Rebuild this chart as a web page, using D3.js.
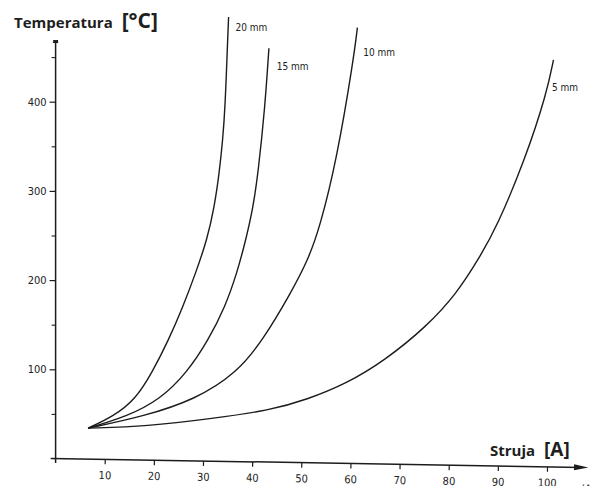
<!DOCTYPE html>
<html>
<head>
<meta charset="utf-8">
<script src="https://d3js.org/d3.v7.min.js"></script>
<style>
  html, body { margin: 0; padding: 0; background: #fff; }
  svg { display: block; }
  .curve { fill: none; stroke: #1c1c1c; stroke-width: 1.4; }
  .axis-line { stroke: #1c1c1c; stroke-width: 1.5; }
  .tick text, .lbl { font-family: "DejaVu Sans Condensed", "DejaVu Sans", sans-serif; font-stretch: condensed; fill: #222; }
  .title { font-family: "Open Sans", "Liberation Sans", sans-serif; font-weight: 700; fill: #1e1e1e; }
</style>
</head>
<body>
<div id="chart"></div>
<script>
// values: current [A] vs. temperature [°C]
const i20 = [6.6, 11.7, 16.2, 19.6, 23.0, 25.9, 28.5, 30.8, 32.3, 33.3, 34.0, 34.5, 35.0, 35.2];
const t20 = [34, 47, 66, 96, 133, 170, 208, 245, 282, 320, 357, 394, 469, 495];

const i15 = [6.6, 14.5, 21.2, 26.7, 31.1, 34.5, 36.9, 38.7, 40.2, 41.2, 42.6, 43.4];
const t15 = [34, 47, 66, 96, 133, 170, 208, 245, 282, 320, 394, 460];

const i10 = [6.6, 17.8, 28.4, 36.9, 42.2, 47.8, 51.4, 53.8, 57.2, 60.6, 61.4];
const t10 = [34, 47, 66, 96, 133, 185, 223, 260, 335, 447, 483];

const i5 = [6.6, 18.5, 32.1, 43.6, 51.1, 59.2, 67.0, 75.5, 81.6, 86.0, 89.8, 95.5, 99.9, 101.3];
const t5 = [34, 36, 45, 54, 66, 84, 110, 148, 185, 223, 260, 335, 409, 447];

const seriesNames = ["20 mm", "15 mm", "10 mm", "5 mm"];
// where each curve label sits, in data units
const labelI = [36.6, 45.0, 62.6, 101.0];
const labelT = [479, 436, 451, 412];

const xTicks = [10, 20, 30, 40, 50, 60, 70, 80, 90, 100];
const yTicks = [100, 200, 300, 400];
const yMinor = [50, 150, 250, 350, 450];

const w = 593, h = 486;

const svg = d3.select("#chart").append("svg")
  .attr("width", w)
  .attr("height", h);

const x = d3.scaleLinear().domain([0, 100]).range([55.6, 547.1]);
const y = d3.scaleLinear().domain([0, 400]).range([458.5, 101.7]);

// y axis
svg.append("line")
  .attr("class", "axis-line")
  .attr("x1", x(0)).attr("x2", x(0))
  .attr("y1", y(-5)).attr("y2", y(468));
svg.append("rect")
  .attr("x", x(0) - 2.5).attr("y", y(468) - 1)
  .attr("width", 5).attr("height", 3)
  .attr("fill", "#1c1c1c");

const yAxis = svg.append("g")
  .attr("transform", `translate(${x(0)},0)`)
  .call(d3.axisLeft(y).tickValues(yTicks).tickSize(6).tickPadding(3));
yAxis.select(".domain").remove();
yAxis.selectAll(".tick line").attr("stroke", "#1c1c1c").attr("stroke-width", 1.2);
yAxis.selectAll(".tick text").style("font-size", "11px");

svg.append("g")
  .attr("transform", `translate(${x(0)},0)`)
  .call(d3.axisLeft(y).tickValues(yMinor).tickSize(4).tickFormat(""))
  .call(g => g.select(".domain").remove())
  .selectAll(".tick line").attr("stroke", "#1c1c1c").attr("stroke-width", 1.1);

// x axis, slightly tilted like the scan
const xg = svg.append("g")
  .attr("transform", `rotate(0.97, ${x(0)}, ${y(0)})`);

xg.append("line")
  .attr("class", "axis-line")
  .attr("x1", x(-1)).attr("x2", x(107))
  .attr("y1", y(0)).attr("y2", y(0));
xg.append("path")
  .attr("d", `M${x(105.5)},${y(0) - 3}L${x(108.4)},${y(0)}L${x(105.5)},${y(0) + 3}Z`)
  .attr("fill", "#1c1c1c");

const xAxis = xg.append("g")
  .attr("transform", `translate(0,${y(0)})`)
  .call(d3.axisBottom(x).tickValues(xTicks).tickSize(5).tickPadding(7));
xAxis.select(".domain").remove();
xAxis.selectAll(".tick line").attr("stroke", "#1c1c1c").attr("stroke-width", 1.2);
xAxis.selectAll(".tick text").style("font-size", "11px");

xg.append("text")
  .attr("class", "lbl")
  .attr("x", x(107)).attr("y", y(0) + 25)
  .style("font-size", "11px")
  .text("(A");

// curves: b-spline through the read points smooths out the reading noise
const line = d3.line()
  .x(d => x(d[0]))
  .y(d => y(d[1]))
  .curve(d3.curveBasis);

const series = [
  d3.zip(i20, t20),
  d3.zip(i15, t15),
  d3.zip(i10, t10),
  d3.zip(i5, t5)
];

svg.append("g")
  .selectAll("path")
  .data(series)
  .enter()
  .append("path")
  .attr("class", "curve")
  .attr("d", line);

svg.append("g")
  .selectAll("text")
  .data(seriesNames)
  .enter()
  .append("text")
  .attr("class", "lbl")
  .attr("x", (d, i) => x(labelI[i]))
  .attr("y", (d, i) => y(labelT[i]))
  .style("font-size", "10px")
  .text(d => d);

// axis titles
const tt = svg.append("text")
  .attr("class", "title")
  .attr("x", 14).attr("y", 28);
tt.append("tspan").style("font-size", "15px").text("Temperatura ");
tt.append("tspan").style("font-size", "21px").attr("dx", 5).text("[°C]");

const st = svg.append("text")
  .attr("class", "title")
  .attr("x", 490).attr("y", 456);
st.append("tspan").style("font-size", "15px").text("Struja ");
st.append("tspan").style("font-size", "19px").attr("dx", 5).text("[A]");
</script>
</body>
</html>
